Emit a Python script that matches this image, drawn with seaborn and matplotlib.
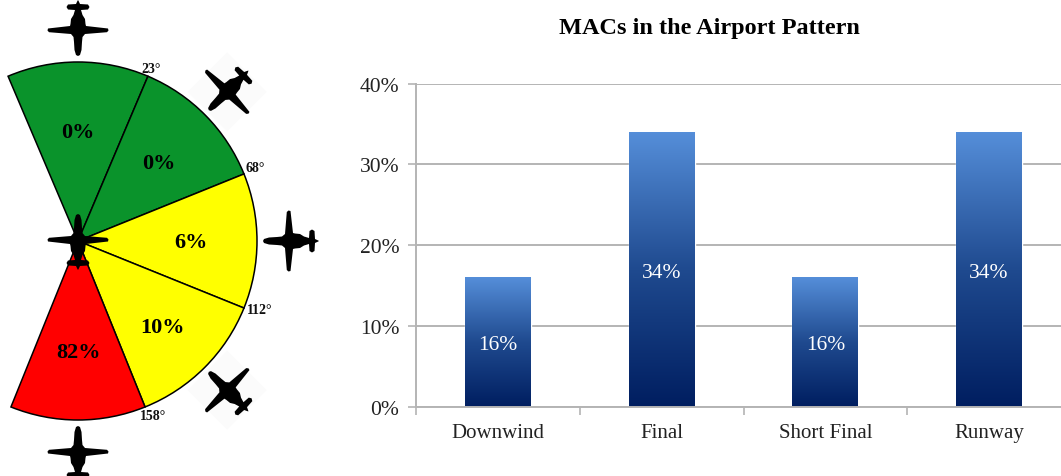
import numpy as np
import pandas as pd
import matplotlib
matplotlib.use("Agg")
import matplotlib.pyplot as plt
import seaborn as sns
from matplotlib.patches import Wedge, Polygon
from matplotlib.colors import LinearSegmentedColormap

# bar chart data
phases = ["Downwind", "Final", "Short Final", "Runway"]
mac_share = [16, 34, 16, 34]
y_ticks = [0, 10, 20, 30, 40]

# sector diagram data
sector_edges = [-23, 23, 68, 112, 158, 202]
sector_share = ["0%", "0%", "6%", "10%", "82%"]
sector_colors = ["#0A932B", "#0A932B", "#FFFF00", "#FFFF00", "#FF0000"]
sector_label_r = [110, 114, 113, 119, 110]
edge_labels = ["23°", "68°", "112°", "158°"]
plane_bearings = [0, 45, 90, 135, 180]

sns.set_style("white")
plt.rcParams["font.family"] = ["Liberation Serif", "DejaVu Serif"]

W, H = 1061, 477
fig = plt.figure(figsize=(W / 100, H / 100), dpi=100)

# left part is drawn in pixel coords, y going up
diagram = fig.add_axes([0, 0, 1, 1])
diagram.set_xlim(0, W)
diagram.set_ylim(0, H)
diagram.axis("off")

CX, CY, R = 78, 477 - 242, 179


def polar(bearing, r):
    a = np.radians(bearing)
    return CX + r * np.sin(a), CY + r * np.cos(a)


# half outline of the aircraft, nose is +y
half_plane = np.array([
    [0, 26], [2, 25], [3.5, 20], [4, 12], [4.5, 7], [7, 4], [29, 2.2],
    [30.5, 0.5], [30, -1.5], [8, -4], [7.5, -6], [7, -11], [4.5, -15], [3, -20],
    [10, -20.5], [11.5, -23], [10, -25.5], [2, -26], [0.6, -29], [0, -30],
])
plane_outline = np.vstack([half_plane, (half_plane * [-1, 1])[::-1]])


def draw_plane(x, y, heading, backing=False):
    a = np.radians(heading)
    rot = np.array([[np.cos(a), np.sin(a)], [-np.sin(a), np.cos(a)]])
    if backing:
        box = np.array([[-28, -28], [28, -28], [28, 28], [-28, 28]]) @ rot.T + [x, y]
        diagram.add_patch(Polygon(box, closed=True, fc="#FBFBFB", ec="none", zorder=1))
    pts = plane_outline @ rot.T + [x, y]
    diagram.add_patch(Polygon(pts, closed=True, fc="black", ec="none", zorder=4))


for i, share in enumerate(sector_share):
    a1, a2 = sector_edges[i], sector_edges[i + 1]
    # Wedge angles run counter clockwise from east
    diagram.add_patch(Wedge((CX, CY), R, 90 - a2, 90 - a1, fc=sector_colors[i],
                            ec="black", lw=1.1, zorder=2))
    lx, ly = polar((a1 + a2) / 2, sector_label_r[i])
    diagram.text(lx, ly - 1.5, share, ha="center", va="center", fontsize=16,
                 fontweight="bold", color="black", zorder=3)

label_offsets = [(3, 8), (11, 6), (16, -1), (8, -9)]
for edge, label, off in zip(sector_edges[1:5], edge_labels, label_offsets):
    ex, ey = polar(edge, R)
    diagram.text(ex + off[0], ey + off[1], label, ha="center", va="center",
                 fontsize=10, fontweight="bold", color="#111111", zorder=3)

for b in plane_bearings:
    px, py = polar(b, 211)
    draw_plane(px, py, b + 180, backing=b % 90 != 0)
draw_plane(CX, CY + 1, 0)

# bar chart, axes run a little past the right edge of the figure
ax_left, ax_right, ax_top, ax_bottom = 416, 1071, 84.7, 407.7
ax = fig.add_axes([ax_left / W, 1 - ax_bottom / H, (ax_right - ax_left) / W, (ax_bottom - ax_top) / H])
ax.patch.set_alpha(0)

df = pd.DataFrame({"phase": phases, "share": mac_share})
sns.barplot(data=df, x="phase", y="share", width=0.403, color="#1F4E9A", ax=ax, zorder=2)

ax.set_xlim(-0.5, 3.5)
ax.set_ylim(0, 40)
ax.set_yticks(y_ticks)
ax.set_yticklabels([f"{t}%" for t in y_ticks], fontsize=15.5, color="#222222")
ax.set_xticks(range(len(phases)))
ax.set_xticklabels(phases, fontsize=15, color="#222222")
ax.set_xticks(np.arange(-0.5, 4), minor=True)
ax.tick_params(axis="x", which="major", length=0, pad=12)
ax.tick_params(axis="x", which="minor", length=6, width=1.2, color="#B4B4B4", bottom=True)
ax.tick_params(axis="y", length=6, width=1.2, color="#B4B4B4", left=True, pad=6)
ax.set_xlabel("")
ax.set_ylabel("")
ax.grid(axis="y", color="#A8A8A8", lw=1.2, zorder=0)
ax.set_axisbelow(True)
sns.despine(ax=ax, top=True, right=True)
for side in ["left", "bottom"]:
    ax.spines[side].set_color("#B4B4B4")
    ax.spines[side].set_linewidth(1.4)

# gradient fill clipped to each bar
bar_cmap = LinearSegmentedColormap.from_list("bars", ["#001E60", "#1F4A8F", "#558ED9"])
gradient = np.linspace(1, 0, 256).reshape(-1, 1)
for bar in ax.containers[0]:
    x0, y0, bw, bh = bar.get_x(), bar.get_y(), bar.get_width(), bar.get_height()
    im = ax.imshow(gradient, cmap=bar_cmap, aspect="auto", extent=[x0, x0 + bw, y0, y0 + bh],
                   vmin=0, vmax=1, zorder=2.5)
    im.set_clip_path(bar)
ax.set_xlim(-0.5, 3.5)
ax.set_ylim(0, 40)

bar_texts = ax.bar_label(ax.containers[0], labels=[f"{v}%" for v in mac_share], label_type="center",
                         color="white", fontsize=15.5, zorder=3)
for t in bar_texts:
    t.xyann = (0, -2)

fig.text(709 / W, 1 - 28.5 / H, "MACs in the Airport Pattern", ha="center", va="center",
         fontsize=17.5, fontweight="bold", color="black")

fig.savefig("out.png", dpi=100)
plt.close(fig)
